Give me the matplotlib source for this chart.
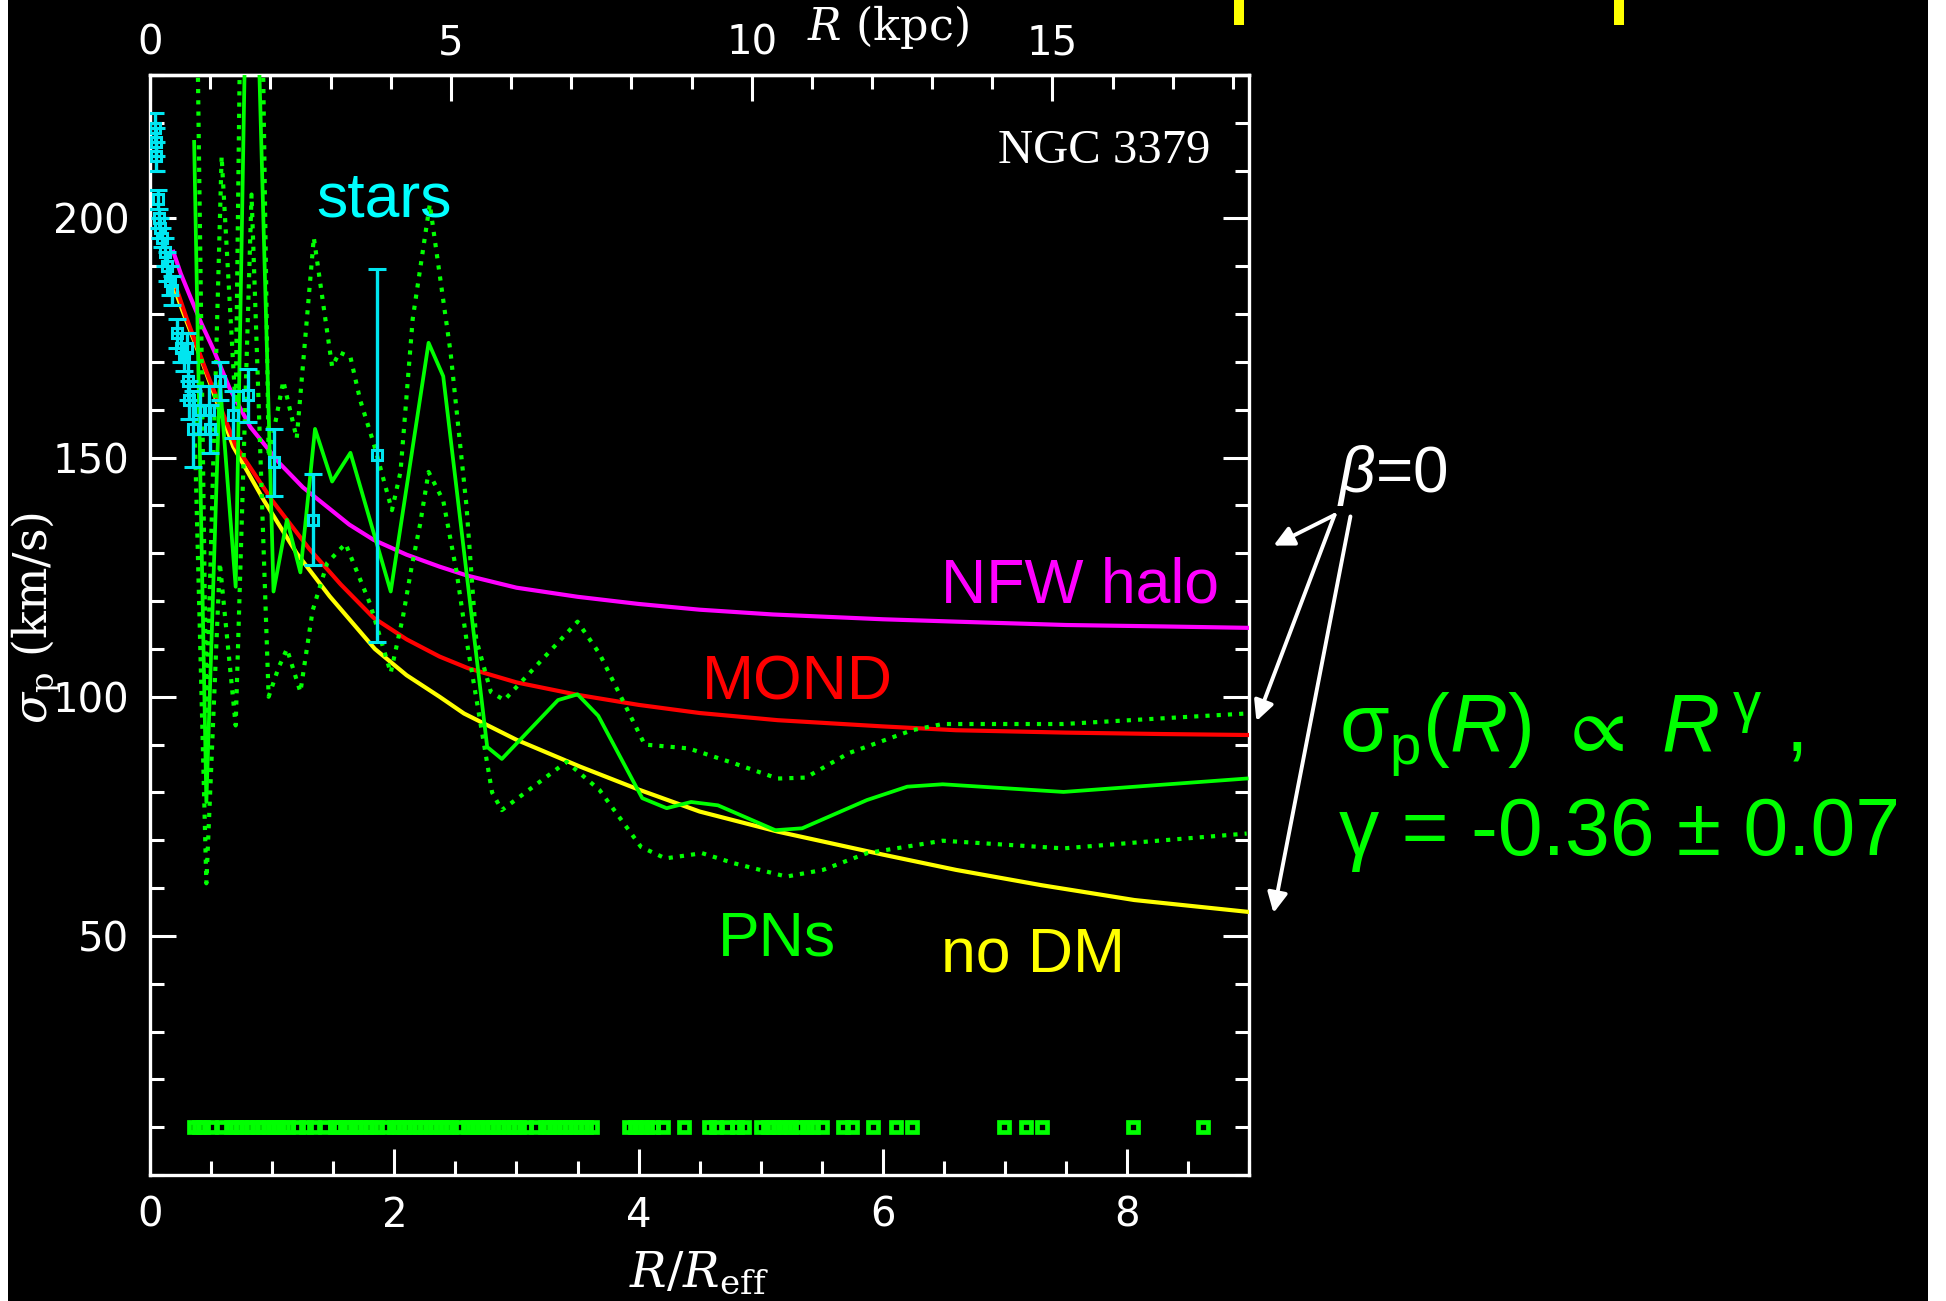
import matplotlib
matplotlib.use("Agg")
import matplotlib.pyplot as plt
from matplotlib.patches import Rectangle
from matplotlib.ticker import MultipleLocator, FixedLocator

# ---------------------------------------------------------------- data
# Stellar long-slit dispersion profile (R / R_eff, km/s, error)
STAR_R = [0.04, 0.045, 0.05, 0.06, 0.07, 0.08, 0.10, 0.12, 0.14, 0.16, 0.18,
          0.22, 0.25, 0.28, 0.30, 0.31, 0.32, 0.35, 0.41, 0.48, 0.49, 0.57,
          0.68, 0.80, 1.01, 1.33, 1.86]
STAR_SIGMA = [219, 216, 213, 204, 200, 198, 196, 193, 190, 187, 185,
              176, 173, 171, 173, 166, 162, 156, 160, 160, 156, 166,
              159, 163, 149, 137, 150.5]
STAR_ERR = [3, 3, 3, 2, 2, 2, 2, 3, 3, 3, 3,
            3, 3, 3, 3, 4, 4, 8, 5, 5, 5, 4,
            5, 5.5, 7, 9.5, 39]

# Model predictions (isotropic orbits)
NFW_R = [0.19, 0.25, 0.33, 0.42, 0.52, 0.65, 0.82, 1.06, 1.25, 1.45, 1.63,
         1.83, 2.10, 2.37, 2.60, 3.00, 3.50, 4.00, 4.50, 5.10, 6.00, 6.60,
         7.50, 8.30, 9.00]
NFW_SIGMA = [193, 188.5, 183.5, 178, 172.5, 164.5, 156.4, 148.8, 143.8, 139.7,
             136, 132.8, 129.7, 127.2, 125.3, 122.8, 120.9, 119.4, 118.2,
             117.2, 116.2, 115.7, 115.0, 114.7, 114.4]

MOND_R = [0.22, 0.30, 0.46, 0.70, 1.00, 1.30, 1.56, 1.83, 2.10, 2.37, 2.60,
          3.00, 3.50, 4.00, 4.50, 5.14, 6.00, 6.60, 7.50, 8.30, 9.00]
MOND_SIGMA = [185, 179, 168, 152.5, 141, 131, 123.5, 116.5, 112, 108.4, 106,
              103, 100.4, 98.3, 96.6, 95.1, 93.8, 93.0, 92.5, 92.2, 92.0]

NODM_R = [0.19, 0.26, 0.42, 0.68, 0.93, 1.20, 1.47, 1.84, 2.10, 2.37, 2.57,
          3.00, 3.52, 4.00, 4.50, 5.14, 6.00, 6.60, 7.30, 8.06, 9.00]
NODM_SIGMA = [186, 181, 170.4, 152.3, 141.1, 130, 121, 110, 104.5, 100, 96.5,
              91, 85.4, 80.6, 76, 71.8, 67, 63.8, 60.6, 57.5, 55]

# Planetary-nebula dispersion profile and its 1-sigma envelope
PN_MEAN_R = [0.36, 0.46, 0.57, 0.70, 0.82, 1.01, 1.12, 1.23, 1.35, 1.49, 1.64,
             1.97, 2.28, 2.40, 2.76, 2.88, 3.34, 3.50, 3.67, 4.03, 4.23, 4.43,
             4.65, 5.12, 5.34, 5.87, 6.20, 6.49, 7.48, 8.98]
PN_MEAN_SIGMA = [216, 78, 166, 123, 300, 122, 137, 126, 156, 145, 151,
                 122, 174, 167, 89.5, 87, 99.3, 100.5, 96, 78.8, 76.7, 78,
                 77.3, 72.1, 72.5, 78.4, 81.2, 81.7, 80.1, 82.9]

PN_UPPER_R = [0.36, 0.46, 0.585, 0.70, 0.82, 0.97, 1.09, 1.20, 1.34, 1.49,
              1.55, 1.64, 1.72, 1.83, 1.98, 2.05, 2.15, 2.29, 2.46, 2.59,
              2.67, 2.79, 2.90, 3.50, 3.68, 4.05, 4.41, 4.78, 5.14, 5.37,
              5.72, 6.24, 6.49, 7.48, 8.98]
PN_UPPER_SIGMA = [290, 96, 213, 160, 420, 150, 166, 154, 196, 169,
                  172, 171, 162, 153, 139, 147, 179, 203, 172, 140,
                  112, 101, 99.3, 115.7, 109, 90, 89.2, 86.1, 82.9, 83.1,
                  88.2, 93, 94.3, 94.3, 96.5]

PN_LOWER_R = [0.36, 0.46, 0.57, 0.70, 0.83, 0.97, 1.05, 1.12, 1.23, 1.33,
              1.45, 1.60, 1.80, 1.97, 2.07, 2.14, 2.21, 2.28, 2.40, 2.51,
              2.59, 2.80, 2.88, 3.41, 3.68, 4.02, 4.22, 4.52, 4.78, 5.21,
              5.51, 5.87, 6.49, 7.48, 8.98]
PN_LOWER_SIGMA = [160, 61, 128, 94, 205, 100, 106, 110, 101, 118,
                  128, 132, 119.5, 105, 116.7, 127, 136, 147, 141, 126,
                  112, 80, 76.3, 86.4, 80.5, 68.6, 66.2, 67.3, 65.2, 62.4,
                  63.8, 67.3, 69.9, 68.3, 71.4]

# Radii of the individual planetary nebulae (shown as a rug near the bottom)
PN_RADII = [0.36, 0.40, 0.43, 0.50, 0.59, 0.66, 0.70, 0.74, 0.79, 0.83, 0.88,
            0.92, 0.97, 1.01, 1.05, 1.09, 1.13, 1.21, 1.28, 1.34, 1.43, 1.51,
            1.55, 1.60, 1.64, 1.68, 1.72, 1.77, 1.81, 1.86, 1.93, 2.00, 2.04,
            2.08, 2.12, 2.17, 2.21, 2.25, 2.30, 2.34, 2.38, 2.42, 2.46, 2.53,
            2.60, 2.64, 2.68, 2.72, 2.77, 2.81, 2.85, 2.89, 2.94, 2.98, 3.02,
            3.08, 3.16, 3.23, 3.27, 3.31, 3.36, 3.40, 3.44, 3.49, 3.53, 3.57,
            3.62, 3.92, 3.97, 4.02, 4.07, 4.12, 4.20, 4.37, 4.58, 4.63, 4.72,
            4.81, 4.86, 5.00, 5.06, 5.10, 5.15, 5.20, 5.25, 5.31, 5.38, 5.43,
            5.50, 5.67, 5.75, 5.92, 6.11, 6.24, 6.99, 7.17, 7.30, 8.05, 8.62]
PN_RUG_LEVEL = 10

R_EFF_KPC = 2.03          # kpc per effective radius
X_TICKS = [0, 2, 4, 6, 8]
Y_TICKS = [50, 100, 150, 200]
KPC_TICKS = [0, 5, 10, 15]

# ---------------------------------------------------------------- style
plt.rcParams['mathtext.fontset'] = 'custom'
plt.rcParams['mathtext.rm'] = 'Liberation Sans'
plt.rcParams['mathtext.it'] = 'Liberation Sans:italic'
plt.rcParams['mathtext.bf'] = 'Liberation Sans:bold'
plt.rcParams['mathtext.fallback'] = 'stixsans'

CYAN = '#00E6F0'
GREEN = '#00FF00'
MAGENTA = '#FF00FF'
RED = '#FF0000'
YELLOW = '#FFFF00'
SANS = ['Liberation Sans', 'DejaVu Sans']

fig = plt.figure(figsize=(19.46, 13.01), dpi=100)
fig.patch.set_facecolor('white')
fig.add_artist(Rectangle((0.0042, 0.0), 0.9865, 1.0, transform=fig.transFigure,
                         facecolor='black', edgecolor='none', zorder=-10))
# slide-title fragments peeking in at the top edge
for x0 in (0.634, 0.8294):
    fig.add_artist(Rectangle((x0, 0.981), 0.0052, 0.019, transform=fig.transFigure,
                             facecolor=YELLOW, edgecolor='none'))

ax = fig.add_axes([0.07718, 0.0968, 0.5647, 0.8456])
ax.set_facecolor('black')
ax.set_xlim(0, 9)
ax.set_ylim(0, 230)

for sp in ax.spines.values():
    sp.set_color('white')
    sp.set_linewidth(2.4)

ax.xaxis.set_major_locator(FixedLocator(X_TICKS))
ax.xaxis.set_minor_locator(MultipleLocator(0.5))
ax.yaxis.set_major_locator(FixedLocator(Y_TICKS))
ax.yaxis.set_minor_locator(MultipleLocator(10))
ax.tick_params(which='both', direction='in', colors='white', width=2.2,
               top=False, right=True, bottom=True, left=True)
ax.tick_params(which='major', length=19, labelsize=29, pad=15)
ax.tick_params(which='minor', length=10)

sec = ax.secondary_xaxis('top', functions=(lambda r: r * R_EFF_KPC,
                                           lambda k: k / R_EFF_KPC))
sec.set_xticks(KPC_TICKS)
sec.xaxis.set_minor_locator(MultipleLocator(1))
sec.tick_params(which='both', direction='in', colors='white', width=2.2)
sec.tick_params(which='major', length=19, labelsize=29, pad=8)
sec.tick_params(which='minor', length=10)
sec.spines['top'].set_color('white')
sec.spines['top'].set_linewidth(2.4)

# ---------------------------------------------------------------- curves
ax.plot(NFW_R, NFW_SIGMA, color=MAGENTA, lw=3.0, zorder=3)
ax.plot(NODM_R, NODM_SIGMA, color=YELLOW, lw=3.0, zorder=3)
ax.plot(MOND_R, MOND_SIGMA, color=RED, lw=3.0, zorder=3.1)

dots = (0, (1, 1.7))
ax.plot(PN_UPPER_R, PN_UPPER_SIGMA, color=GREEN, lw=3.0, ls=dots, zorder=4)
ax.plot(PN_LOWER_R, PN_LOWER_SIGMA, color=GREEN, lw=3.0, ls=dots, zorder=4)
ax.plot(PN_MEAN_R, PN_MEAN_SIGMA, color=GREEN, lw=2.7, zorder=4.2)

ax.plot(PN_RADII, [PN_RUG_LEVEL] * len(PN_RADII), ls='none', marker='s',
        ms=6.5, mfc='none', mec=GREEN, mew=3.4, zorder=4)

ax.errorbar(STAR_R, STAR_SIGMA, yerr=STAR_ERR, fmt='s', ms=6.5, mfc='none',
            mec=CYAN, mew=2.2, ecolor=CYAN, elinewidth=2.4, capsize=6.5,
            capthick=2.4, zorder=6)

# ---------------------------------------------------------------- labels
ax.text(1.36, 200.4, 'stars', color='#00FFFF', fontsize=45, family=SANS,
        ha='left', va='baseline')
ax.text(6.48, 119.6, 'NFW halo', color=MAGENTA, fontsize=45, family=SANS,
        ha='left', va='baseline')
ax.text(4.52, 99.5, 'MOND', color=RED, fontsize=45, family=SANS,
        ha='left', va='baseline')
ax.text(4.65, 46.0, 'PNs', color=GREEN, fontsize=45, family=SANS,
        ha='left', va='baseline')
ax.text(6.48, 42.6, 'no DM', color=YELLOW, fontsize=45, family=SANS,
        ha='left', va='baseline')
ax.text(8.68, 211.5, 'NGC 3379', color='white', fontsize=35,
        family='Liberation Serif', ha='right', va='baseline')

ax.text(9.72, 142.9, r'$\beta$=0', color='white', fontsize=46, family=SANS,
        math_fontfamily='custom', ha='left', va='baseline', clip_on=False)
ax.text(9.74, 88.5,
        r'$\mathrm{\sigma}_\mathrm{p}(R)\ \propto\ R^{\,\mathrm{\gamma}}$ ,',
        color=GREEN, fontsize=58, family=SANS, math_fontfamily='custom',
        ha='left', va='baseline', clip_on=False)
ax.text(9.74, 67.0, 'γ = -0.36 ± 0.07', color=GREEN, fontsize=58,
        family=SANS, ha='left', va='baseline', clip_on=False)

arrow_style = dict(arrowstyle='-|>', color='white', lw=2.8,
                   mutation_scale=30, shrinkA=0, shrinkB=0)
for tail, head in [((9.70, 138.0), (9.20, 131.6)),
                   ((9.70, 138.0), (9.06, 94.9)),
                   ((9.83, 137.7), (9.20, 54.8))]:
    ax.annotate('', xy=head, xytext=tail, arrowprops=arrow_style,
                annotation_clip=False)

fig.text(0.019, 0.525, r'$\sigma_{\rm p}$ (km/s)', rotation=90, ha='center',
         va='center', color='white', fontsize=33, family='DejaVu Serif',
         math_fontfamily='dejavuserif')
fig.text(0.359, 0.011, r'$R/R_{\rm eff}$', ha='center', va='baseline',
         color='white', fontsize=35, family='DejaVu Serif',
         math_fontfamily='dejavuserif')
fig.text(0.4147, 0.969, r'$R$ (kpc)', ha='left', va='baseline',
         color='white', fontsize=32, family='DejaVu Serif',
         math_fontfamily='dejavuserif')

fig.savefig('out.png', dpi=100, facecolor=fig.get_facecolor())
